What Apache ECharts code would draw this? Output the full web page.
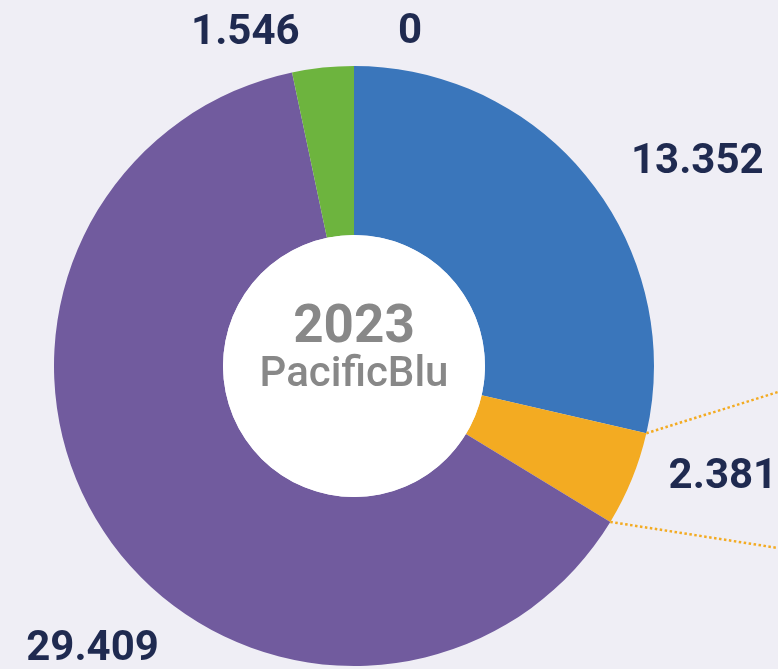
<!DOCTYPE html>
<html><head><meta charset="utf-8">
<script src="https://cdn.jsdelivr.net/npm/echarts@6/dist/echarts.min.js"></script>
<style>html,body{margin:0;padding:0;background:#efeef5}#c{width:778px;height:669px}</style>
</head><body><div id="c"></div>
<script>
const categories = ['Segment A','Segment B','Segment C','Segment D','Segment E'];
const values = [13.352, 2.381, 29.409, 1.546, 0];
const colors = ['#3a76bb','#f3ab22','#715b9e','#6db43e','#d9534f'];
const centerYear = '2023';
const centerName = 'PacificBlu';
// label nudges (dx, dy) relative to ECharts' outside placement
const labelNudge = [[-2,3],[-12,-13],[95,92],[0,-3],[88,-3]];
// connector (to an off-canvas detail) starts at the edges of this slice
const connectorSlice = 1;
const connectorTargetDy = [26, 182];

const CX = 354, CY = 366, R0 = 131, R1 = 300;
const chart = echarts.init(document.getElementById('c'), null, {renderer:'canvas'});

const total = values.reduce((a,b)=>a+b,0);
function edgePoint(angleDegFromTopCW){
  const a = angleDegFromTopCW*Math.PI/180;
  return [CX + R1*Math.sin(a), CY - R1*Math.cos(a)];
}
let cum = 0;
for (let i=0;i<connectorSlice;i++) cum += values[i];
const aStart = cum/total*360, aEnd = (cum+values[connectorSlice])/total*360;
const p1 = edgePoint(aStart), p2 = edgePoint(aEnd);

chart.setOption({
  backgroundColor:'#efeef5',
  animation:false,
  series:[{
    type:'pie',
    center:[CX,CY],
    radius:[R0,R1],
    startAngle:90,
    clockwise:true,
    avoidLabelOverlap:false,
    data: categories.map((c,i)=>({name:c,value:values[i],itemStyle:{color:colors[i]}})),
    label:{
      show:true, position:'outside',
      formatter:p=>String(p.value),
      fontFamily:'Roboto', fontWeight:'bold', fontSize:42, color:'#1f2a50'
    },
    labelLine:{show:false,length:31,length2:15},
    labelLayout:p=>({dx:labelNudge[p.dataIndex][0],dy:labelNudge[p.dataIndex][1]}),
    itemStyle:{borderWidth:0}
  },{
    type:'pie',
    center:[CX,CY],
    radius:[0,R0],
    silent:true,
    data:[{value:1,name:'center',itemStyle:{color:'#ffffff'}}],
    label:{
      show:true, position:'center',
      formatter:'{y|'+centerYear+'}\n{n|'+centerName+'}',
      rich:{
        y:{fontFamily:'Roboto',fontWeight:'bold',fontSize:53,color:'#888888',lineHeight:48},
        n:{fontFamily:'Roboto',fontWeight:500,fontSize:42,color:'#888888',lineHeight:44}
      }
    },
    labelLayout:()=>({dy:-15}),
    labelLine:{show:false}
  }],
  graphic:[
    {type:'line',shape:{x1:p1[0],y1:p1[1],x2:778,y2:CY+connectorTargetDy[0]},
     style:{stroke:'#f3ab22',lineWidth:2.5,lineDash:[2.5,2.5]},z:10},
    {type:'line',shape:{x1:p2[0],y1:p2[1],x2:778,y2:CY+connectorTargetDy[1]},
     style:{stroke:'#f3ab22',lineWidth:2.5,lineDash:[2.5,2.5]},z:10}
  ]
});
</script></body></html>
